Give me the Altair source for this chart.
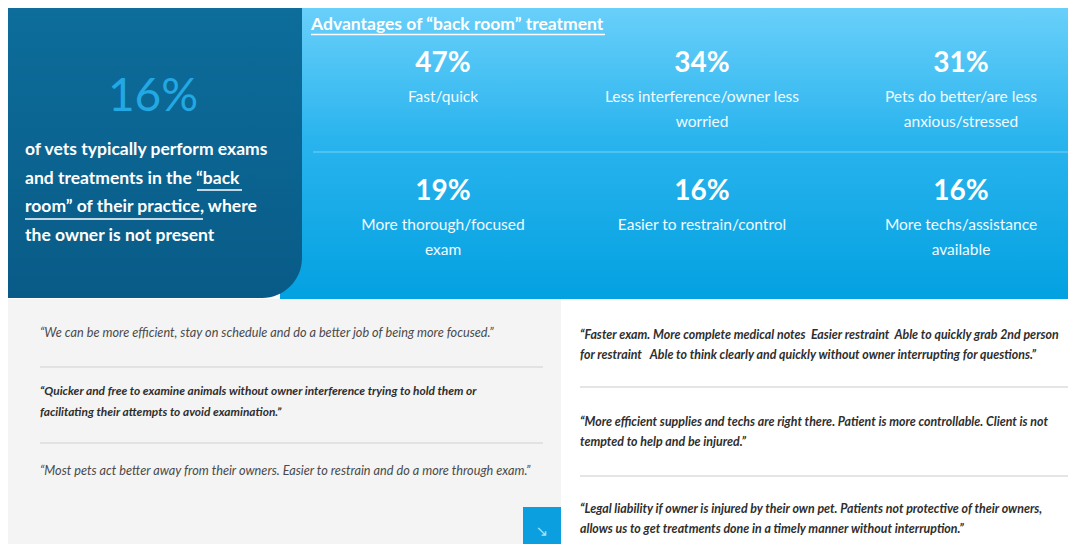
import altair as alt
import pandas as pd

# ------------------------------------------------------------------ data
headline_value = 16
headline_lines = [
    "of vets typically perform exams",
    "and treatments in the \u201cback",
    "room\u201d of their practice, where",
    "the owner is not present",
]
section_title = "Advantages of \u201cback room\u201d treatment"
adv_values = [47, 34, 31, 19, 16, 16]
adv_labels = [
    ["Fast/quick"],
    ["Less interference/owner less", "worried"],
    ["Pets do better/are less", "anxious/stressed"],
    ["More thorough/focused", "exam"],
    ["Easier to restrain/control"],
    ["More techs/assistance", "available"],
]
quotes_left = [
    ["\u201cWe can be more efficient, stay on schedule and do a better job of being more focused.\u201d"],
    ["\u201cQuicker and free to examine animals without owner interference trying to hold them or",
     "facilitating their attempts to avoid examination.\u201d"],
    ["\u201cMost pets act better away from their owners. Easier to restrain and do a more through exam.\u201d"],
]
quotes_right = [
    ["\u201cFaster exam. More complete medical notes \u00a0Easier restraint \u00a0Able to quickly grab 2nd person",
     "for restraint \u00a0 Able to think clearly and quickly without owner interrupting for questions.\u201d"],
    ["\u201cMore efficient supplies and techs are right there. Patient is more controllable. Client is not",
     "tempted to help and be injured.\u201d"],
    ["\u201cLegal liability if owner is injured by their own pet. Patients not protective of their owners,",
     "allows us to get treatments done in a timely manner without interruption.\u201d"],
]

# ------------------------------------------------------------------ layout (page pixels)
X_DOM = [8, 1068]
Y_DOM = [8, 544]
COL_X = [443, 702, 961]
ROW_Y = [64, 192]
LABEL_DY = [33, 58]
LEFT_Q_X, RIGHT_Q_X = 40, 580
LEFT_Q_Y = [333, 391, 471]
RIGHT_Q_Y = [335, 422, 509]
Q_LINE = 20
LEFT_Q_LINE = 21

xs = alt.Scale(domain=X_DOM, nice=False, zero=False)
ys = alt.Scale(domain=Y_DOM, nice=False, zero=False, reverse=True)
X = lambda f: alt.X(f, type="quantitative", scale=xs, axis=None)
Y = lambda f: alt.Y(f, type="quantitative", scale=ys, axis=None)


def rect_layer(df, **mk):
    return alt.Chart(df).mark_rect(**mk).encode(
        x=X("x"), x2="x2", y=Y("y"), y2="y2")


def text_layer(df, **mk):
    return alt.Chart(df).mark_text(**mk).encode(x=X("x"), y=Y("y"), text="t:N")


def rule_layer(df, **mk):
    return alt.Chart(df).mark_rule(**mk).encode(x=X("x"), x2="x2", y=Y("y"))


# backgrounds
gray_bg = rect_layer(pd.DataFrame([{"x": 0, "x2": 561, "y": 299, "y2": 560}]),
                     color="#f4f4f4")
blue_bg = rect_layer(
    pd.DataFrame([{"x": 280, "x2": 1080, "y": 6, "y2": 299}]),
    color=alt.LinearGradient(
        gradient="linear", x1=0, y1=0, x2=0, y2=1,
        stops=[alt.GradientStop(color="#6ad0fa", offset=0),
               alt.GradientStop(color="#2ab4ee", offset=0.45),
               alt.GradientStop(color="#03a1e1", offset=1)]))
top_strip = rule_layer(pd.DataFrame([{"x": 300, "x2": 1080, "y": 6.5}]),
                       color="#c9effd", strokeWidth=2)
dark_panel = rect_layer(
    pd.DataFrame([{"x": 0, "x2": 302, "y": 6, "y2": 298}]),
    cornerRadiusBottomRight=40,
    color=alt.LinearGradient(
        gradient="linear", x1=0, y1=0, x2=0, y2=1,
        stops=[alt.GradientStop(color="#0d6d9b", offset=0),
               alt.GradientStop(color="#095b87", offset=1)]))
divider = rule_layer(pd.DataFrame([{"x": 313, "x2": 1080, "y": 152}]),
                     color="#4cc3f3", strokeWidth=2)
square = rect_layer(pd.DataFrame([{"x": 523, "x2": 561, "y": 507, "y2": 560}]),
                    color="#0b9fe0")
arrow = text_layer(pd.DataFrame([{"x": 542, "y": 531, "t": "\u2198"}]),
                   font="DejaVu Sans", fontSize=15, color="#a8e4fb",
                   align="center", baseline="middle")

# left panel text
big = text_layer(pd.DataFrame([{"x": 153, "y": 97, "t": f"{headline_value}%"}]),
                 font="Lato", fontSize=46, color="#22a9e4",
                 align="center", baseline="middle")
hl = text_layer(pd.DataFrame([{"x": 25, "y": 150 + 28.5 * i, "t": s}
                              for i, s in enumerate(headline_lines)]),
                font="Lato", fontSize=17.5, fontWeight="bold", color="white",
                align="left", baseline="middle")

# section title
title = text_layer(pd.DataFrame([{"x": 311, "y": 25, "t": section_title}]),
                   font="Lato", fontSize=17.5, fontWeight="bold", color="white",
                   align="left", baseline="middle")

# grid of advantages
pct_rows, lab_rows = [], []
for i, (v, lab) in enumerate(zip(adv_values, adv_labels)):
    cx, cy = COL_X[i % 3], ROW_Y[i // 3]
    pct_rows.append({"x": cx, "y": cy, "t": f"{v}%"})
    for j, s in enumerate(lab):
        lab_rows.append({"x": cx, "y": cy + LABEL_DY[j], "t": s})
pcts = text_layer(pd.DataFrame(pct_rows), font="Lato", fontSize=28,
                  fontWeight="bold", color="white", align="center",
                  baseline="middle")
labs = text_layer(pd.DataFrame(lab_rows), font="Lato", fontSize=15.5,
                  color="#f2fbff", align="center", baseline="middle")

# quotes
QFONT = "Lato"
lq = []
for k, (q, y0) in enumerate(zip(quotes_left, LEFT_Q_Y)):
    for j, s in enumerate(q):
        lq.append({"x": LEFT_Q_X, "y": y0 + j * LEFT_Q_LINE, "t": s, "k": k})
lq = pd.DataFrame(lq)
lq_reg = text_layer(lq[lq.k != 1], font=QFONT, fontSize=12.7, fontStyle="italic",
                    color="#4a4a4a", align="left", baseline="middle")
lq_bold = text_layer(lq[lq.k == 1], font=QFONT, fontSize=11.9, fontStyle="italic",
                     fontWeight="bold", color="#2e2e2e", align="left",
                     baseline="middle")
rq = []
for q, y0 in zip(quotes_right, RIGHT_Q_Y):
    for j, s in enumerate(q):
        rq.append({"x": RIGHT_Q_X, "y": y0 + j * Q_LINE, "t": s})
rq_layer = text_layer(pd.DataFrame(rq), font=QFONT, fontSize=12.4,
                      fontStyle="italic", fontWeight="bold", color="#2e2e2e",
                      align="left", baseline="middle")

seps = rule_layer(pd.DataFrame([
    {"x": 40, "x2": 543, "y": 367}, {"x": 40, "x2": 543, "y": 443},
    {"x": 580, "x2": 1080, "y": 387}, {"x": 580, "x2": 1080, "y": 476}]),
    color="#dddddd", strokeWidth=1.5)

underlines = rule_layer(pd.DataFrame([
    {"x": 311, "x2": 605, "y": 34.5},
    {"x": 197, "x2": 242, "y": 190},
    {"x": 25, "x2": 203, "y": 219}]), color="white", strokeWidth=1.3)

chart = alt.layer(
    gray_bg, blue_bg, top_strip, divider, dark_panel, square, arrow, big, hl,
    title, underlines, pcts, labs, seps, lq_reg, lq_bold, rq_layer,
).properties(
    width=1060, height=536, padding=0, autosize=alt.AutoSizeParams(type="none"),
    background="white",
).configure_view(stroke=None)

chart.save("out.html", embed_options={"renderer": "svg", "actions": False})
